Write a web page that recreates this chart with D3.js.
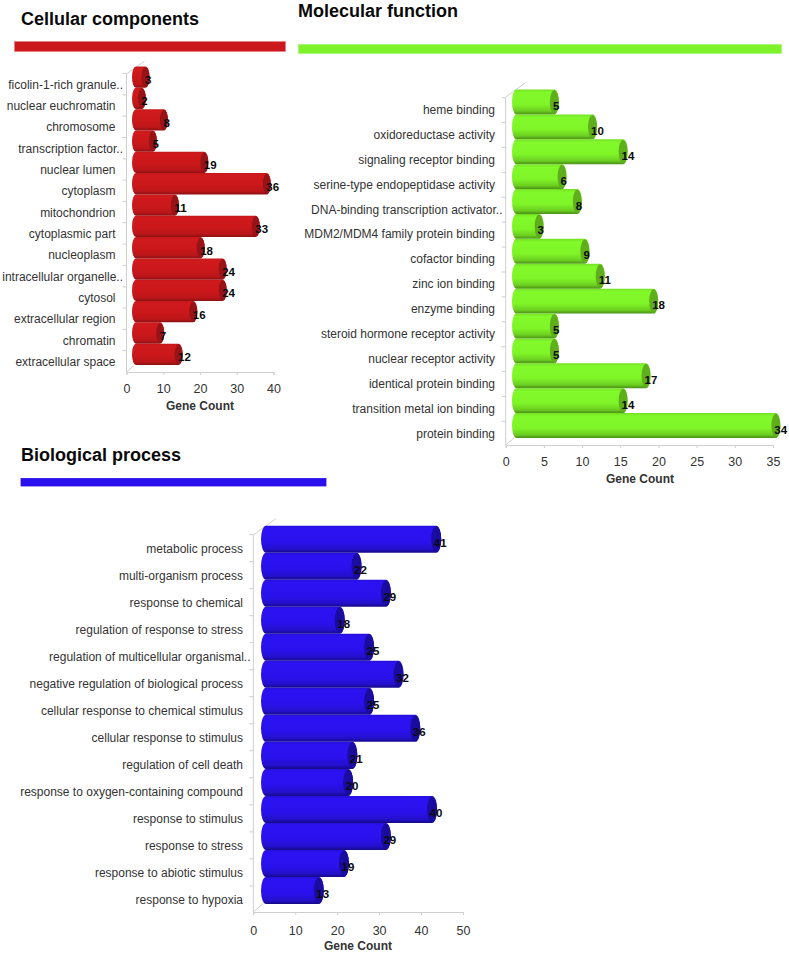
<!DOCTYPE html>
<html><head><meta charset="utf-8">
<script src="https://cdn.jsdelivr.net/npm/d3@7"></script>
<style>html,body{margin:0;padding:0;background:#fff}svg{display:block}text{font-family:"Liberation Sans",Arial,sans-serif}</style>
</head><body><svg id="c" width="789" height="954"></svg>
<script>
const ccCategories=["ficolin-1-rich granule..","nuclear euchromatin","chromosome","transcription factor..","nuclear lumen","cytoplasm","mitochondrion","cytoplasmic part","nucleoplasm","intracellular organelle..","cytosol","extracellular region","chromatin","extracellular space"];
const ccValues=[3,2,8,5,19,36,11,33,18,24,24,16,7,12];
const ccTicks=[0,10,20,30,40];
const mfCategories=["heme binding","oxidoreductase activity","signaling receptor binding","serine-type endopeptidase activity","DNA-binding transcription activator..","MDM2/MDM4 family protein binding","cofactor binding","zinc ion binding","enzyme binding","steroid hormone receptor activity","nuclear receptor activity","identical protein binding","transition metal ion binding","protein binding"];
const mfValues=[5,10,14,6,8,3,9,11,18,5,5,17,14,34];
const mfTicks=[0,5,10,15,20,25,30,35];
const bpCategories=["metabolic process","multi-organism process","response to chemical","regulation of response to stress","regulation of multicellular organismal..","negative regulation of biological process","cellular response to chemical stimulus","cellular response to stimulus","regulation of cell death","response to oxygen-containing compound","response to stimulus","response to stress","response to abiotic stimulus","response to hypoxia"];
const bpValues=[41,22,29,18,25,32,25,36,21,20,40,29,19,13];
const bpTicks=[0,10,20,30,40,50];

const svg=d3.select("#c"), defs=svg.append("defs");
function grad(id,stops){
  const g=defs.append("linearGradient").attr("id",id).attr("x1",0).attr("x2",0).attr("y1",0).attr("y2",1);
  stops.forEach(([o,c])=>g.append("stop").attr("offset",o).attr("stop-color",c));
}
const pal={
 r:{body:[[0,"#c4171a"],[.1,"#d01a1d"],[.5,"#cc181b"],[.85,"#bb1619"],[1,"#8a1012"]],cap:"#971316",bar:"#cb181c",edge:"#e8807f"},
 g:{body:[[0,"#74e024"],[.12,"#82f92a"],[.6,"#7ff528"],[.86,"#6ccf20"],[1,"#4a8f16"]],cap:"#5fae1b",bar:"#7ff32a",edge:"#a8f57a"},
 b:{body:[[0,"#2510d8"],[.1,"#2c12f2"],[.6,"#2a11ec"],[.86,"#2410cc"],[1,"#160a88"]],cap:"#1a0c9e",bar:"#2a10ee",edge:"#2a10ee"}
};
Object.entries(pal).forEach(([k,p])=>grad("grad-"+k,p.body));

function panel(o){
  const g=svg.append("g");
  const x=d3.scaleLinear().domain([o.ticks[0],o.ticks[o.ticks.length-1]]).range([o.x0,o.x1]);
  const y=d3.scaleBand().domain(o.cats).range([o.top,o.bottom]);
  const bh=y.bandwidth(), p=pal[o.key], rx=o.capRx;
  const gc="#cfcfcf";
  g.append("path").attr("fill","none").attr("stroke",gc).attr("stroke-width",1)
    .attr("d",`M${o.x0},${o.axisTop}V${o.base}M${o.x0},${o.axisTop}L${o.x0+o.depth},${o.axisTop-o.depth*.72}M${o.x0},${o.base}L${o.x0+o.depth*.42},${o.base-o.depth*.36}`);
  g.append("g").selectAll("line").data(o.cats).join("line")
    .attr("x1",o.x0-4).attr("x2",o.x0).attr("stroke",gc)
    .attr("y1",d=>y(d)+bh*.33).attr("y2",d=>y(d)+bh*.33);
  const ax=g.append("g").attr("transform",`translate(0,${o.base})`)
    .call(d3.axisBottom(x).tickValues(o.ticks).tickSize(3).tickPadding(o.tickPad).tickFormat(d3.format("d")));
  ax.select(".domain").attr("stroke",gc);
  ax.selectAll("line").attr("stroke",gc);
  ax.selectAll("text").attr("font-size",12.5).attr("fill","#333").style("font-family",'"Liberation Sans",Arial,sans-serif');
  g.append("text").attr("x",o.axisTitleX).attr("y",o.axisTitleY).attr("text-anchor","middle")
    .attr("font-size",12).attr("font-weight","bold").attr("fill","#333").text("Gene Count");
  g.append("g").selectAll("text").data(o.cats).join("text")
    .attr("x",d=>o.labelX+(d.endsWith("..")?7.5:0))
    .attr("y",d=>y(d)+bh/2+o.labelDy).attr("text-anchor","end")
    .attr("font-size",12).attr("fill","#333").text(d=>d);
  const rows=o.cats.map((c,i)=>({c,v:o.vals[i]}));
  const bars=g.append("g").selectAll("g").data(rows).join("g")
    .attr("transform",d=>`translate(0,${y(d.c)})`);
  const endX=d=>x(d.v)+o.endOff;
  bars.append("path").attr("fill",`url(#grad-${o.key})`)
    .attr("d",d=>{const l=o.barX,r=endX(d)-rx;
      return `M${l+rx},0H${r}A${rx},${bh/2} 0 0 1 ${r},${bh}H${l+rx}A${rx},${bh/2} 0 0 1 ${l+rx},0Z`;});
  bars.append("ellipse").attr("cx",d=>endX(d)-rx).attr("cy",bh/2)
    .attr("rx",rx).attr("ry",bh/2-.6).attr("fill",p.cap);
  g.append("g").selectAll("text").data(rows).join("text")
    .attr("x",d=>endX(d)+o.valDx).attr("y",d=>y(d.c)+bh/2+o.valDy).attr("text-anchor","start")
    .attr("font-size",11.5).attr("font-weight","bold").attr("fill","#0a0a0a").text(d=>d.v);
  g.append("text").attr("x",o.titleX).attr("y",o.titleY).attr("font-size",18).attr("font-weight","bold").attr("fill","#0a0a0a").text(o.title);
  g.append("rect").attr("x",o.rule[0]).attr("y",o.rule[1]).attr("width",o.rule[2]).attr("height",o.rule[3])
    .attr("fill",p.bar).attr("stroke",p.edge).attr("stroke-width",.8);
}
panel({key:"r",title:"Cellular components",titleX:21,titleY:25,rule:[14.5,41.5,271,10],cats:ccCategories,vals:ccValues,ticks:ccTicks,
  x0:126.5,x1:273.5,top:66.5,bottom:365,base:372,axisTop:74,depth:18,barX:132,endOff:12,capRx:4,labelX:115.5,labelDy:11.5,valDx:-4.5,valDy:7,tickPad:9,axisTitleX:200,axisTitleY:410});
panel({key:"g",title:"Molecular function",titleX:298,titleY:17,rule:[298.5,44.5,483,9],cats:mfCategories,vals:mfValues,ticks:mfTicks,
  x0:505.7,x1:773,top:89.5,bottom:438,base:445,axisTop:97,depth:20,barX:512,endOff:15,capRx:4.5,labelX:495,labelDy:12,valDx:-6,valDy:8,tickPad:9,axisTitleX:640,axisTitleY:483});
panel({key:"b",title:"Biological process",titleX:21,titleY:461,rule:[21,478.5,305,7.5],cats:bpCategories,vals:bpValues,ticks:bpTicks,
  x0:253.3,x1:463,top:525.7,bottom:904,base:912,axisTop:535,depth:23,barX:261,endOff:16,capRx:5,labelX:243,labelDy:14,valDx:-7.5,valDy:8,tickPad:11,axisTitleX:358,axisTitleY:950});
</script></body></html>
